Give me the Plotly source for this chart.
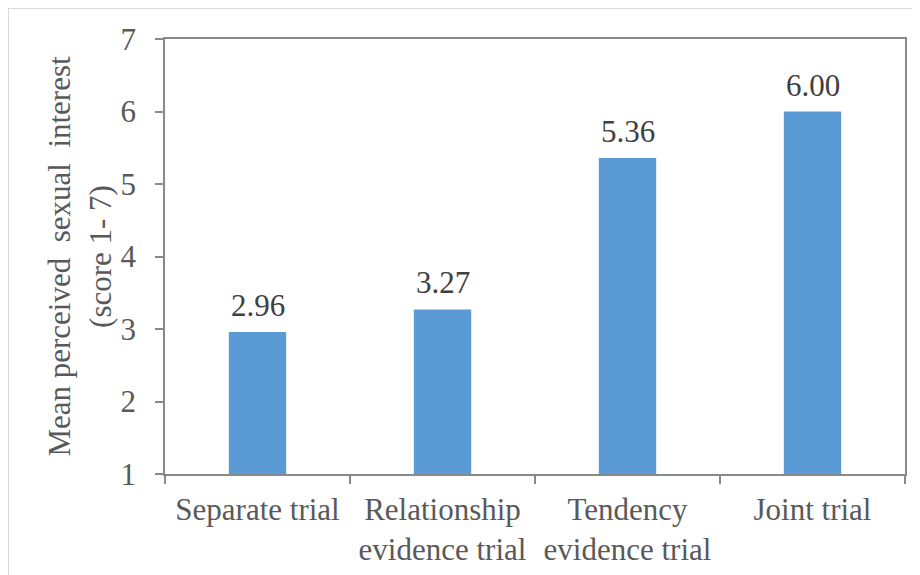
import plotly.graph_objects as go

categories = ["Separate trial", "Relationship<br>evidence trial", "Tendency<br>evidence trial", "Joint trial"]
values = [2.96, 3.27, 5.36, 6.00]
value_labels = ["2.96", "3.27", "5.36", "6.00"]
y_ticks = [1, 2, 3, 4, 5, 6, 7]
y_title = "Mean perceived\u00a0 sexual\u00a0 interest<br>(score 1- 7)"

FONT = "Liberation Serif"
AXIS_COLOR = "#898989"
TEXT_COLOR = "#595959"
FS = 31

fig = go.Figure()
fig.add_trace(go.Bar(
    x=categories,
    y=values,
    width=0.31,
    marker=dict(color="#5b9bd5", line=dict(width=0)),
    cliponaxis=True,
    hovertext=value_labels,
))

# value labels placed above each bar through the data axes
for cat, val, lab in zip(categories, values, value_labels):
    fig.add_annotation(x=cat, y=val, text=lab, showarrow=False,
                       xref="x", yref="y", yanchor="bottom", yshift=7,
                       font=dict(family=FONT, size=FS, color="#404040"))

fig.update_layout(
    width=920, height=575,
    margin=dict(l=157, r=23, t=31, b=109),
    paper_bgcolor="white", plot_bgcolor="white",
    showlegend=False,
    font=dict(family=FONT, size=FS, color=TEXT_COLOR),
)
fig.update_xaxes(
    type="category",
    tickson="boundaries",
    ticks="outside", ticklen=8, tickcolor=AXIS_COLOR, tickwidth=1.5,
    showline=True, linecolor=AXIS_COLOR, linewidth=1.5, mirror=True,
    showgrid=False,
    ticklabelstandoff=7,
    tickfont=dict(family=FONT, size=FS, color=TEXT_COLOR),
)
fig.update_yaxes(
    range=[1, 7],
    tickvals=y_ticks,
    ticks="outside", ticklen=8, tickcolor=AXIS_COLOR, tickwidth=1.5,
    showline=True, linecolor=AXIS_COLOR, linewidth=1.5, mirror=True,
    showgrid=False, zeroline=False,
    ticklabelstandoff=13,
    tickfont=dict(family=FONT, size=FS, color=TEXT_COLOR),
    title=dict(text=y_title, font=dict(family=FONT, size=FS, color=TEXT_COLOR), standoff=0),
)
# outer chart border (light gray) along the figure edge
fig.add_shape(type="rect", xref="paper", yref="paper",
              x0=-157 / 740, x1=1.2, y0=-0.5, y1=1 + 31 / 435,
              line=dict(color="#d9d9d9", width=2), layer="below")

fig.write_html("out.html")
